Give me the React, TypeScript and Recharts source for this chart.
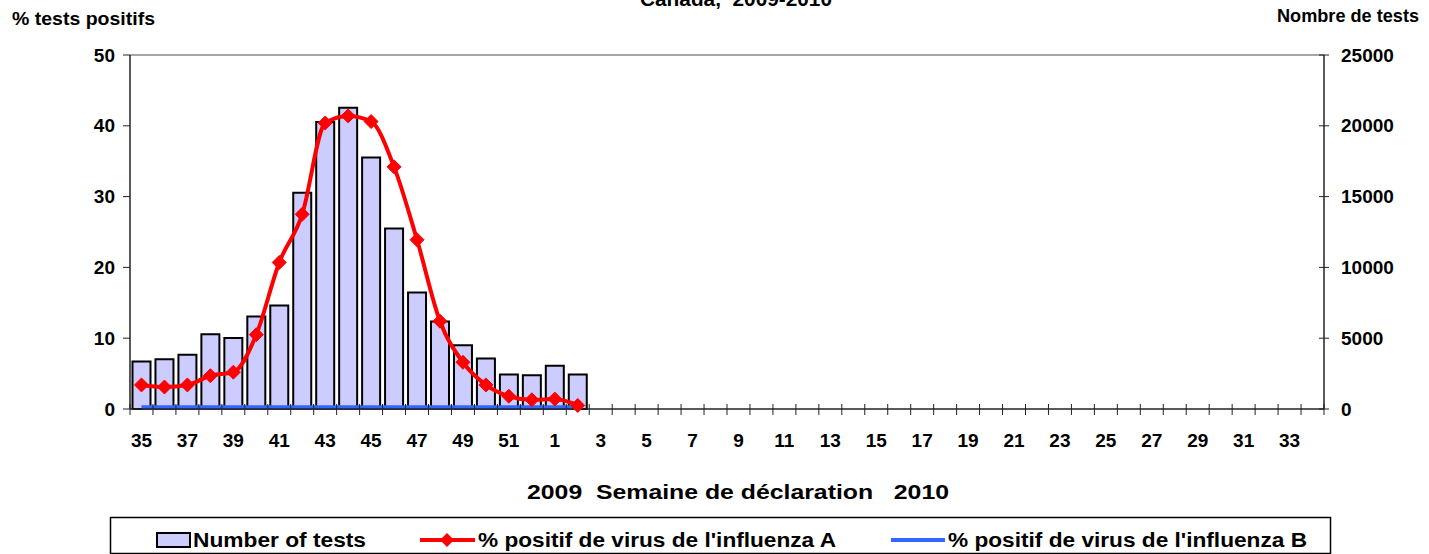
import { Bar, ComposedChart, Line, ReferenceLine, XAxis, YAxis } from 'recharts';

const weeks = [
  '35', '36', '37', '38', '39', '40', '41', '42', '43', '44', '45', '46', '47', '48', '49', '50', '51', '52',
  '1', '2', '3', '4', '5', '6', '7', '8', '9', '10', '11', '12', '13', '14', '15', '16', '17',
  '18', '19', '20', '21', '22', '23', '24', '25', '26', '27', '28', '29', '30', '31', '32', '33', '34',
];

// weekly totals, weeks 35 (2009) to 2 (2010)
const testCounts = [3360, 3510, 3830, 5280, 5010, 6540, 7310, 15280, 20270, 21280, 17770, 12740, 8220, 6180, 4510, 3570, 2430, 2380, 3060, 2430];
const pctFluA = [3.4, 3.1, 3.4, 4.7, 5.2, 10.5, 20.7, 27.5, 40.4, 41.4, 40.6, 34.2, 23.9, 12.4, 6.6, 3.4, 1.8, 1.3, 1.4, 0.5];
const pctFluB = [0.2, 0.2, 0.2, 0.2, 0.2, 0.2, 0.2, 0.2, 0.2, 0.2, 0.2, 0.2, 0.2, 0.2, 0.2, 0.2, 0.2, 0.2, 0.2, 0.2];

const pctTicks = [0, 10, 20, 30, 40, 50];
const testTicks = [0, 5000, 10000, 15000, 20000, 25000];

const data = weeks.map((week, i) => ({
  week,
  tests: testCounts[i] ?? null,
  fluA: pctFluA[i] ?? null,
  fluB: pctFluB[i] ?? null,
}));

const FONT = '"Liberation Sans", Arial, sans-serif';
const AXIS = '#222';
const TICK_FONT = 19;

function WeekTick(props: any) {
  const { x, y, payload, index } = props;
  const half = typeof payload?.offset === 'number' && payload.offset > 0 ? payload.offset : 11.5;
  return (
    <g>
      <line x1={x - half} x2={x - half} y1={y - 5} y2={y + 6} stroke={AXIS} />
      {index === weeks.length - 1 && <line x1={x + half} x2={x + half} y1={y - 5} y2={y + 6} stroke={AXIS} />}
      {index % 2 === 0 && (
        <text x={x} y={y + 31} dy="0.35em" textAnchor="middle" fontSize={TICK_FONT} fontWeight="bold" fontFamily={FONT} fill="#000">
          {payload.value}
        </text>
      )}
    </g>
  );
}

function PctTick({ x, y, payload }: any) {
  return (
    <g>
      <line x1={x - 7} x2={x} y1={y} y2={y} stroke={AXIS} />
      <text x={x - 15} y={y} dy="0.35em" textAnchor="end" fontSize={TICK_FONT} fontWeight="bold" fontFamily={FONT} fill="#000">
        {payload.value}
      </text>
    </g>
  );
}

function TestTick({ x, y, payload }: any) {
  return (
    <g>
      <line x1={x - 5} x2={x + 5} y1={y} y2={y} stroke={AXIS} />
      <text x={x + 17} y={y} dy="0.35em" textAnchor="start" fontSize={TICK_FONT} fontWeight="bold" fontFamily={FONT} fill="#000">
        {payload.value}
      </text>
    </g>
  );
}

function Diamond({ cx, cy, index }: any) {
  if (cx == null || cy == null) return <g key={`d-${index}`} />;
  const r = 7;
  return (
    <polygon
      key={`d-${index}`}
      points={`${cx},${cy - r} ${cx + r},${cy} ${cx},${cy + r} ${cx - r},${cy}`}
      fill="#ff0000"
      stroke="#ff0000"
    />
  );
}

export default function App() {
  return (
    <div style={{ position: 'absolute', left: 0, top: 0, width: 1429, height: 554, background: '#fff', overflow: 'hidden' }}>
      <ComposedChart width={1429} height={554} data={data} margin={{ top: 55, right: 0, bottom: 105, left: 0 }} barCategoryGap={2.5}>
        <XAxis
          dataKey="week"
          interval={0}
          tickSize={0}
          tickMargin={0}
          height={40}
          tick={<WeekTick />}
          axisLine={{ stroke: AXIS, strokeWidth: 1.5 }}
        />
        <YAxis
          yAxisId="left"
          orientation="left"
          width={130}
          domain={[0, 50]}
          ticks={pctTicks}
          tickSize={0}
          tickMargin={0}
          tick={<PctTick />}
          axisLine={{ stroke: AXIS, strokeWidth: 1.5 }}
        />
        <YAxis
          yAxisId="right"
          orientation="right"
          width={105}
          domain={[0, 25000]}
          ticks={testTicks}
          tickSize={0}
          tickMargin={0}
          tick={<TestTick />}
          axisLine={{ stroke: AXIS, strokeWidth: 1.5 }}
        />
        <ReferenceLine yAxisId="left" y={50} stroke="#888" strokeWidth={1.5} />
        <Bar yAxisId="right" dataKey="tests" fill="#ccccff" stroke="#000" strokeWidth={2} isAnimationActive={false} />
        <Line
          yAxisId="left"
          type="linear"
          dataKey="fluB"
          stroke="#3366ff"
          strokeWidth={4.5}
          dot={false}
          activeDot={false}
          isAnimationActive={false}
        />
        <Line
          yAxisId="left"
          type="monotone"
          dataKey="fluA"
          stroke="#ff0000"
          strokeWidth={4}
          dot={<Diamond />}
          activeDot={false}
          isAnimationActive={false}
        />
      </ComposedChart>

      <svg
        width={1429}
        height={554}
        style={{ position: 'absolute', left: 0, top: 0, pointerEvents: 'none' }}
        fontFamily={FONT}
        fontWeight="bold"
      >
        <text x={640} y={6} fontSize={21} textLength={192} lengthAdjust="spacingAndGlyphs" style={{ whiteSpace: 'pre' }}>
          Canada,  2009-2010
        </text>
        <text x={12} y={25} fontSize={18} textLength={143} lengthAdjust="spacingAndGlyphs">% tests positifs</text>
        <text x={1277} y={22} fontSize={18} textLength={142} lengthAdjust="spacingAndGlyphs">Nombre de tests</text>
        <text x={527} y={499} fontSize={21} textLength={422} lengthAdjust="spacingAndGlyphs" style={{ whiteSpace: 'pre' }}>
          2009  Semaine de déclaration   2010
        </text>

        <rect x={110.5} y={517.5} width={1220} height={36} fill="#fff" stroke="#000" strokeWidth={1.5} />
        <rect x={157} y={533} width={33} height={14} fill="#ccccff" stroke="#000" strokeWidth={2} />
        <text x={193} y={547} fontSize={20} textLength={173} lengthAdjust="spacingAndGlyphs">Number of tests</text>
        <line x1={420} x2={475} y1={540} y2={540} stroke="#ff0000" strokeWidth={4} />
        <polygon points="447,533 454,540 447,547 440,540" fill="#ff0000" />
        <text x={478} y={547} fontSize={20} textLength={358} lengthAdjust="spacingAndGlyphs">% positif de virus de l'influenza A</text>
        <line x1={891} x2={945} y1={540} y2={540} stroke="#3366ff" strokeWidth={4} />
        <text x={948} y={547} fontSize={20} textLength={359} lengthAdjust="spacingAndGlyphs">% positif de virus de l'influenza B</text>
      </svg>
    </div>
  );
}
